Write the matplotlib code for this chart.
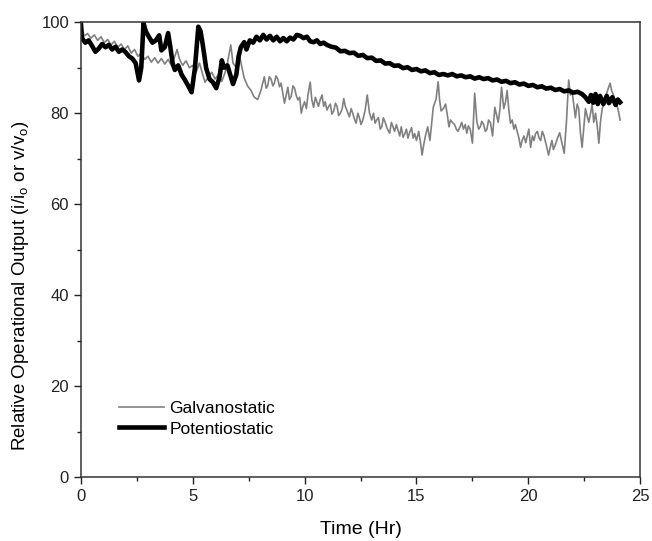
import matplotlib
matplotlib.use("Agg")
import matplotlib.pyplot as plt
from matplotlib.ticker import MultipleLocator

plt.rcParams['font.family'] = ['Liberation Sans', 'DejaVu Sans']

galv_t = [0.0, 0.05, 0.15, 0.3, 0.45, 0.6, 0.75, 0.9, 1.05, 1.2, 1.35, 1.5, 1.65, 1.8, 1.95,
          2.1, 2.25, 2.4, 2.55, 2.7, 2.85, 3.0, 3.15, 3.3, 3.45, 3.6, 3.75, 3.9, 4.05, 4.2,
          4.3, 4.4, 4.55, 4.7, 4.85, 5.0, 5.15, 5.3, 5.45, 5.55, 5.7, 5.85, 6.0, 6.15, 6.3,
          6.45, 6.55, 6.7, 6.8, 6.95, 7.1, 7.2, 7.3, 7.45, 7.6, 7.75, 7.9,
          8.05, 8.12, 8.2, 8.28, 8.35, 8.42, 8.5, 8.58, 8.65, 8.72, 8.8, 8.88, 8.95, 9.02,
          9.1, 9.18, 9.25, 9.32, 9.4, 9.48, 9.55, 9.62, 9.7, 9.78, 9.85, 9.92, 10.0, 10.08,
          10.15, 10.25, 10.32, 10.4, 10.48, 10.55, 10.62, 10.7, 10.78, 10.85, 10.92, 11.0,
          11.08, 11.15, 11.22, 11.3, 11.38, 11.45, 11.52, 11.6, 11.68, 11.75, 11.82, 11.9,
          12.0, 12.08, 12.15, 12.22, 12.3, 12.38, 12.45, 12.52, 12.6, 12.7, 12.8, 12.9, 13.0,
          13.08, 13.15, 13.22, 13.3, 13.38, 13.45, 13.52, 13.6, 13.7, 13.8, 13.88, 13.95,
          14.02, 14.1, 14.18, 14.25, 14.32, 14.4, 14.48, 14.55, 14.62, 14.7, 14.78, 14.85,
          14.92, 15.0, 15.1, 15.18, 15.25, 15.32, 15.4, 15.5, 15.6, 15.75, 15.87, 15.97,
          16.03, 16.1, 16.2, 16.3, 16.38, 16.45, 16.52, 16.6, 16.7, 16.78, 16.85, 16.95,
          17.02, 17.1, 17.18, 17.25, 17.32, 17.4, 17.5, 17.6, 17.7, 17.78, 17.85, 17.92,
          18.0, 18.08, 18.15, 18.22, 18.3, 18.4, 18.5, 18.58, 18.65, 18.72, 18.8, 18.9,
          18.98, 19.05, 19.12, 19.2, 19.28, 19.35, 19.42, 19.5, 19.58, 19.65, 19.72, 19.8,
          19.88, 19.95, 20.02, 20.1, 20.18, 20.25, 20.32, 20.4, 20.48, 20.55, 20.62, 20.7,
          20.8, 20.9, 20.98, 21.05, 21.12, 21.2, 21.3, 21.4, 21.5, 21.6, 21.7, 21.8, 21.88,
          21.95, 22.1, 22.18, 22.25, 22.32, 22.4, 22.48, 22.55, 22.62, 22.7, 22.78, 22.85,
          22.92, 23.0, 23.08, 23.15, 23.22, 23.3, 23.4, 23.5, 23.65, 23.72, 23.8, 23.9,
          24.0, 24.1]
galv_v = [100, 98.5, 97, 97.5, 96.5, 97.2, 96, 96.8, 95.5, 96.2, 95, 95.8, 94.5, 95.2, 94,
          94.8, 93.2, 94, 92.5, 93.2, 91.8, 92.5, 91.2, 92.2, 91, 92, 90.8, 91.8, 90.5, 92.5,
          94, 92, 90.5, 91.5, 90, 90.5, 89, 91, 88.5, 86.8, 88, 89, 87.5, 88.5, 87,
          89, 91, 95, 91, 90, 92.5, 90, 87.7, 86, 85, 83.5, 83,
          85, 86.5, 88, 85.5, 86, 88, 87.5, 86, 86.6, 88.2, 87.5, 85.8, 86.6, 84.5,
          82.2, 84, 85.7, 83, 83.7, 86, 85.5, 84, 82.9, 83.5, 80, 81.5, 82.5, 81,
          84, 86.8, 83, 81.3, 83.5, 82.5, 81.5, 83, 84, 81.5, 82.5, 80.7,
          81.5, 82, 79.8, 80.5, 82.2, 81.5, 79.5, 80, 81, 83.2, 81.5, 80.5,
          79.2, 81, 80, 78.8, 77.8, 80, 79, 77.5, 78.5, 80.5, 84, 80, 78.5,
          80, 77.8, 78.5, 79, 76.5, 77, 79, 78, 76.5, 75.6, 78, 77,
          76, 77.5, 76.2, 75, 77, 74.7, 75.5, 76.5, 74.5, 75.9, 76.8, 74.5,
          75.5, 74, 76, 73.5, 70.8, 73, 75, 77, 74, 81.3, 83, 86.9,
          83, 80.5, 81, 82, 79.5, 77, 78.5, 78, 77.5, 76.5, 76, 77,
          78, 76.5, 77.5, 75.6, 77.2, 76.5, 73.4, 84.4, 78, 76.5, 77, 78.2,
          77.5, 76, 76.5, 78.5, 78, 75, 81.3, 79.5, 78, 80.5, 85.7, 81,
          82.5, 85, 81, 77.8, 78.5, 76.5, 77.5, 76, 74.5, 72.5, 74, 75,
          73.5, 75, 76.5, 72.5, 75, 74, 75.5, 76, 74.5, 74, 76, 75,
          73, 70.8, 72.5, 74, 72, 73, 74.5, 75.7, 73.5, 71.2, 78, 87.3, 84,
          85, 79, 82, 81, 76, 72.5, 77, 81, 79.5, 78, 80, 82,
          78, 80, 77, 73.4, 78, 81, 82.5, 84.4, 86.6, 85, 84, 82.5,
          81, 78.5]

pot_t = [0.0, 0.05, 0.2, 0.35, 0.5, 0.65, 0.8, 0.95, 1.1, 1.25, 1.4, 1.55, 1.7, 1.85, 2.0,
         2.15, 2.3, 2.45, 2.6, 2.7, 2.8, 2.9, 3.05, 3.2, 3.35, 3.5, 3.6, 3.75, 3.9, 4.0,
         4.1, 4.2, 4.35, 4.5, 4.65, 4.8, 4.95, 5.1, 5.25, 5.35, 5.45, 5.6, 5.75, 5.9, 6.05,
         6.2, 6.3, 6.4, 6.55, 6.7, 6.8, 6.95, 7.05, 7.15, 7.3, 7.4, 7.55, 7.7, 7.85, 8.0,
         8.15, 8.3, 8.45, 8.6, 8.75, 8.9, 9.05, 9.2, 9.35, 9.5, 9.65, 9.8, 9.95, 10.1, 10.25,
         10.4, 10.55, 10.7, 10.85, 11.0, 11.2, 11.4, 11.6, 11.8, 12.0, 12.2, 12.4, 12.6, 12.8,
         13.0, 13.2, 13.4, 13.6, 13.8, 14.0, 14.2, 14.4, 14.6, 14.8, 15.0, 15.2, 15.4, 15.6,
         15.8, 16.0, 16.2, 16.4, 16.6, 16.8, 17.0, 17.2, 17.4, 17.6, 17.8, 18.0, 18.2, 18.4,
         18.6, 18.8, 19.0, 19.2, 19.4, 19.6, 19.8, 20.0, 20.2, 20.4, 20.6, 20.8, 21.0, 21.2,
         21.4, 21.6, 21.8, 22.0, 22.2, 22.4, 22.55, 22.7, 22.8, 22.9, 23.0, 23.1, 23.2, 23.35,
         23.5, 23.6, 23.75, 23.9, 24.0, 24.1]
pot_v = [100, 96.5, 95.5, 96, 94.8, 93.5, 94.2, 95.2, 94.5, 95, 94, 94.6, 93.5, 94, 93.4,
         92.5, 92, 91, 87.2, 90, 99.8, 98, 96.7, 95.5, 96, 97.1, 93.8, 94.5, 97.6, 94.5,
         91, 89.5, 90.5, 88.5, 87.3, 86, 84.6, 90, 99, 98, 95, 89.9, 87.5, 86.8, 85.5,
         88, 91.6, 90, 90.5, 88, 86.4, 88.5, 92.5, 94.5, 95.6, 94, 96, 95.5, 96.8, 96,
         97.2, 96.2, 97, 96, 96.8, 95.8, 96.5, 95.8, 96.6, 96.2, 97.2, 97, 96.5, 96.8, 95.8,
         95.6, 96, 95.2, 95.5, 95.0, 94.6, 94.4, 93.6, 93.7, 93.2, 93.3, 92.6, 92.8, 92.1,
         92.2, 91.5, 91.6, 90.9, 91.0, 90.4, 90.5, 89.9, 90.1, 89.5, 89.7, 89.2, 89.4, 88.8,
         89.0, 88.4, 88.6, 88.3, 88.6, 88.1, 88.3, 87.9, 88.1, 87.6, 87.9, 87.5, 87.7, 87.2,
         87.4, 86.9, 87.1, 86.6, 86.8, 86.3, 86.5, 86.0, 86.2, 85.7, 85.9, 85.4, 85.6, 85.1,
         85.3, 84.8, 85.0, 84.5, 84.7, 84.2, 83.5, 82.5, 84, 82.3, 84.2, 82, 83.8, 82,
         83.8, 82.2, 83.5, 81.8, 83, 82.4]

x_ticks = [0, 5, 10, 15, 20, 25]
y_ticks = [0, 20, 40, 60, 80, 100]

fig = plt.figure(figsize=(6.52, 5.41), dpi=100)
ax = fig.add_axes([0.124, 0.118, 0.858, 0.841])

ax.plot(galv_t, galv_v, color='#808080', lw=1.2, label='Galvanostatic')
ax.plot(pot_t, pot_v, color='black', lw=3.3, label='Potentiostatic')

ax.set_xlim(0, 25)
ax.set_ylim(0, 100)
ax.set_xticks(x_ticks)
ax.set_yticks(y_ticks)
ax.xaxis.set_minor_locator(MultipleLocator(2.5))
ax.yaxis.set_minor_locator(MultipleLocator(10))
ax.tick_params(which='major', direction='out', length=5, width=1, labelsize=12, colors='#222222')
ax.tick_params(which='minor', direction='out', length=3, width=1, colors='#222222')
for s in ax.spines.values():
    s.set_linewidth(1.1)
    s.set_color('#333333')

ax.set_xlabel('Time (Hr)', fontsize=14, labelpad=12)
ax.set_ylabel(r'Relative Operational Output (i/i$_\mathregular{o}$ or v/v$_\mathregular{o}$)',
              fontsize=13.5)
ax.yaxis.set_label_coords(-0.09, 0.42)

ax.legend(loc='lower left', bbox_to_anchor=(0.04, 0.055), frameon=False, fontsize=12.5,
          handlelength=2.6, handletextpad=0.3, labelspacing=0.3)

fig.savefig('out.png', dpi=100)
